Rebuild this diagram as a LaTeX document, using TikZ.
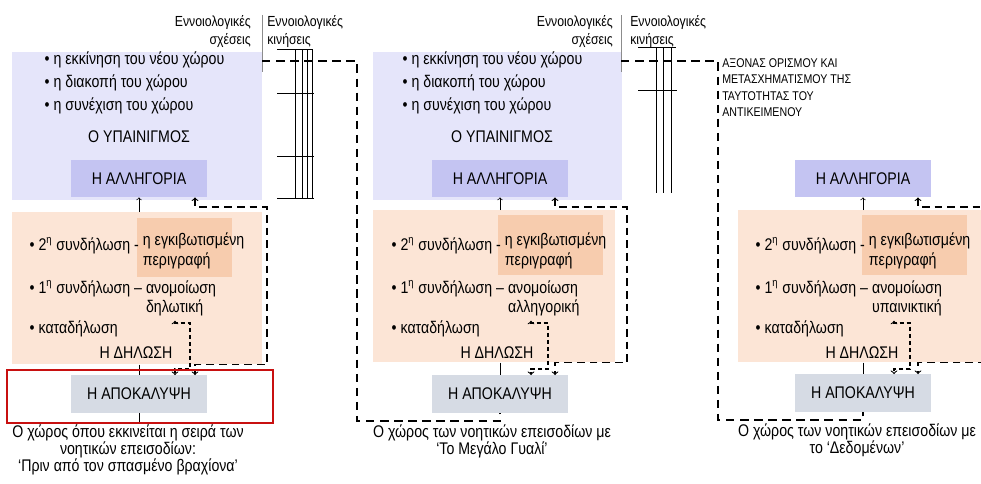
\documentclass[tikz,border=0pt]{standalone}
\usepackage{fontspec}
\setmainfont[FakeStretch=0.84]{Liberation Sans}
\definecolor{hintfill}{RGB}{229,229,250}
\definecolor{allegfill}{RGB}{196,196,242}
\definecolor{declfill}{RGB}{252,229,214}
\definecolor{nestfill}{RGB}{247,204,174}
\definecolor{revealfill}{RGB}{214,219,228}
\definecolor{markred}{RGB}{200,16,16}
% two-line tail of a bullet line
\newcommand{\tailpair}[2]{\begin{tabular}[t]{@{}l@{}}#1\\#2\end{tabular}}

\begin{document}
\begin{tikzpicture}[x=0.025cm,y=-0.025cm,
  areabox/.style={anchor=north west, inner sep=0pt},
  keybox/.style={inner sep=0pt, minimum width=3.4cm, minimum height=0.93cm, font=\fontsize{12}{14}\selectfont},
  linetext/.style={anchor=base west, align=left, inner sep=1pt, font=\fontsize{12}{14.2}\selectfont},
  headtext/.style={inner sep=1pt, font=\fontsize{12}{14}\selectfont},
  concept/.style={inner sep=0pt, font=\fontsize{10.4}{12.8}\selectfont},
  captext/.style={align=center, inner sep=0pt, font=\fontsize{12}{12}\selectfont},
  gridline/.style={line width=0.5pt},
  sepline/.style={black!45, line width=0.6pt},
  solidlink/.style={line width=0.5pt},
  looplink/.style={line width=0.8pt, dash pattern=on 5.5pt off 3.5pt},
  tielink/.style={line width=0.8pt, dash pattern=on 3pt off 2pt},
  axisline/.style={line width=0.9pt, dash pattern=on 6pt off 4pt}]
\clip (0,0) rectangle (981,483);

% first panel
\node[areabox, fill=hintfill, minimum width=6.25cm, minimum height=3.7cm] (hint1) at (12,52) {};
\node[areabox, fill=declfill, minimum width=6.25cm, minimum height=3.8cm] (decl1) at (12,212) {};
\node[areabox, fill=nestfill, minimum width=2.375cm, minimum height=1.475cm] (nest1) at (137,218) {};
\node[concept, anchor=east, align=right] (rel1) at (251,31) {Εννοιολογικές\\σχέσεις};
\node[concept, anchor=west, align=left] (mov1) at (267,31) {Εννοιολογικές\\κινήσεις};
\node[linetext, anchor=west, font=\fontsize{12}{16.3}\selectfont] (list1) at (43,83) {• η εκκίνηση του νέου χώρου\\• η διακοπή του χώρου\\• η συνέχιση του χώρου};
\node[headtext] (title1) at (139,137) {Ο ΥΠΑΙΝΙΓΜΟΣ};
\node[keybox, fill=allegfill] (alleg1) at (139,178.5) {Η ΑΛΛΗΓΟΡΙΑ};
\node[linetext] (second1) at (28,250) {• 2\textsuperscript{η} συνδήλωση - \raisebox{3.5pt}{\tailpair{η εγκιβωτισμένη}{περιγραφή}}};
\node[linetext] (first1) at (28,293) {• 1\textsuperscript{η} συνδήλωση – \tailpair{ανομοίωση}{δηλωτική}};
\node[linetext] (down1) at (28,333) {• καταδήλωση};
\node[headtext] (decltitle1) at (136,353) {Η ΔΗΛΩΣΗ};
\node[keybox, fill=revealfill] (reveal1) at (139,394) {Η ΑΠΟΚΑΛΥΨΗ};
\node[captext] (cap1) at (128,450) {Ο χώρος όπου εκκινείται η σειρά των\\νοητικών επεισοδίων:\\‘Πριν από τον σπασμένο βραχίονα’};
\draw[sepline] (262,15) -- (262,72);
\draw[gridline] (277,49) -- (313,49) (277,93) -- (314,93) (277,156) -- (314,156) (277,198) -- (314,198);
\draw[gridline] (295,49) -- (295,198) (302,49) -- (302,198) (307,49) -- (307,198) (312,49) -- (312,198);

% second panel
\node[areabox, fill=hintfill, minimum width=6.225cm, minimum height=3.7cm] (hint2) at (373,52) {};
\node[areabox, fill=declfill, minimum width=6.05cm, minimum height=3.8cm] (decl2) at (373,210) {};
\node[areabox, fill=nestfill, minimum width=2.625cm, minimum height=1.5cm] (nest2) at (498,215) {};
\node[concept, anchor=east, align=right] (rel2) at (613,31) {Εννοιολογικές\\σχέσεις};
\node[concept, anchor=west, align=left] (mov2) at (630,31) {Εννοιολογικές\\κινήσεις};
\node[linetext, anchor=west, font=\fontsize{12}{16.3}\selectfont] (list2) at (401,83) {• η εκκίνηση του νέου χώρου\\• η διακοπή του χώρου\\• η συνέχιση του χώρου};
\node[headtext] (title2) at (502,137) {Ο ΥΠΑΙΝΙΓΜΟΣ};
\node[keybox, fill=allegfill] (alleg2) at (500,178.5) {Η ΑΛΛΗΓΟΡΙΑ};
\node[linetext] (second2) at (390,250) {• 2\textsuperscript{η} συνδήλωση - \raisebox{3.5pt}{\tailpair{η εγκιβωτισμένη}{περιγραφή}}};
\node[linetext] (first2) at (390,293) {• 1\textsuperscript{η} συνδήλωση – \tailpair{ανομοίωση}{αλληγορική}};
\node[linetext] (down2) at (390,333) {• καταδήλωση};
\node[headtext] (decltitle2) at (497,353) {Η ΔΗΛΩΣΗ};
\node[keybox, fill=revealfill] (reveal2) at (500,394) {Η ΑΠΟΚΑΛΥΨΗ};
\node[captext] (cap2) at (492,441) {Ο χώρος των νοητικών επεισοδίων με\\‘Το Μεγάλο Γυαλί’};
\draw[sepline] (621,15) -- (621,72);
\draw[gridline] (638,47) -- (676,47) (638,90) -- (677,90);
\draw[gridline] (656,47) -- (656,193) (663,47) -- (663,193) (671,47) -- (671,193);

% third panel
\node[areabox, fill=declfill, minimum width=6.3cm, minimum height=3.8cm] (decl3) at (738,210) {};
\node[areabox, fill=nestfill, minimum width=2.625cm, minimum height=1.5cm] (nest3) at (862,215) {};
\node[concept, anchor=west, align=left, font=\fontsize{9}{11.7}\selectfont] (axisnote) at (722,87.5) {ΑΞΟΝΑΣ ΟΡΙΣΜΟΥ ΚΑΙ\\ΜΕΤΑΣΧΗΜΑΤΙΣΜΟΥ ΤΗΣ\\ΤΑΥΤΟΤΗΤΑΣ ΤΟΥ\\ΑΝΤΙΚΕΙΜΕΝΟΥ};
\node[keybox, fill=allegfill] (alleg3) at (863,178.5) {Η ΑΛΛΗΓΟΡΙΑ};
\node[linetext] (second3) at (754,250) {• 2\textsuperscript{η} συνδήλωση - \raisebox{3.5pt}{\tailpair{η εγκιβωτισμένη}{περιγραφή}}};
\node[linetext] (first3) at (754,293) {• 1\textsuperscript{η} συνδήλωση – \tailpair{ανομοίωση}{υπαινικτική}};
\node[linetext] (down3) at (754,333) {• καταδήλωση};
\node[headtext] (decltitle3) at (862,353) {Η ΔΗΛΩΣΗ};
\node[keybox, fill=revealfill] (reveal3) at (863,393) {Η ΑΠΟΚΑΛΥΨΗ};
\node[captext] (cap3) at (857,440) {Ο χώρος των νοητικών επεισοδίων με\\το ‘Δεδομένων’};

% stems through each panel
\draw[solidlink, ->] (alleg1.south |- decl1.north) -- (alleg1.south);
\draw[solidlink] (decl1.south -| alleg1.south) -- (reveal1.north);
\coordinate (start1) at (139,424);
\draw[solidlink] (reveal1.south) -- (start1);
\draw[solidlink, ->] (alleg2.south |- decl2.north) -- (alleg2.south);
\draw[solidlink] (decl2.south -| alleg2.south) -- (reveal2.north);
\draw[solidlink, ->] (alleg3.south |- decl3.north) -- (alleg3.south);
\draw[solidlink] (decl3.south -| alleg3.south) -- (reveal3.north);

% dashed loops round the declaration
\coordinate (loop1) at (195,207);
\draw[looplink, <->] (alleg1.south -| loop1) -- (loop1) -- ++(72,0) |- (decl1.south -| loop1) -- (reveal1.north -| loop1);
\coordinate (loop2) at (555,207);
\draw[looplink, <->] (alleg2.south -| loop2) -- (loop2) -- ++(72,0) |- (decl2.south -| loop2) -- (reveal2.north -| loop2);
\coordinate (loop3) at (918,207);
\draw[looplink, <->] (alleg3.south -| loop3) -- (loop3) -- ++(72,0) |- (decl3.south -| loop3) -- (reveal3.north -| loop3);

% brackets from the simile kind
\coordinate (tie1) at (175,323);
\draw[tielink, <->] (first1.south -| tie1) -- (tie1) -- ++(15,0) -- ++(0,46) -| (reveal1.north -| tie1);
\coordinate (tie2) at (531,323);
\draw[tielink, <->] (first2.south -| tie2) -- (tie2) -- ++(17,0) -- ++(0,46) -| (reveal2.north -| tie2);
\coordinate (tie3) at (894,323);
\draw[tielink, <->] (first3.south -| tie3) -- (tie3) -- ++(16,0) -- ++(0,46) -| (reveal3.north -| tie3);

% axis from one panel to the next
\coordinate (axis1) at (262,61);
\draw[axisline] (axis1) -- ++(95,0) -- ++(0,360) -| (reveal2.south);
\coordinate (axis2) at (621,61);
\draw[axisline] (axis2) -- ++(97,0) -- ++(0,359) -| (reveal3.south);

% highlight
\draw[markred, line width=1.5pt] (7,370) rectangle (273,423);
\end{tikzpicture}
\end{document}
